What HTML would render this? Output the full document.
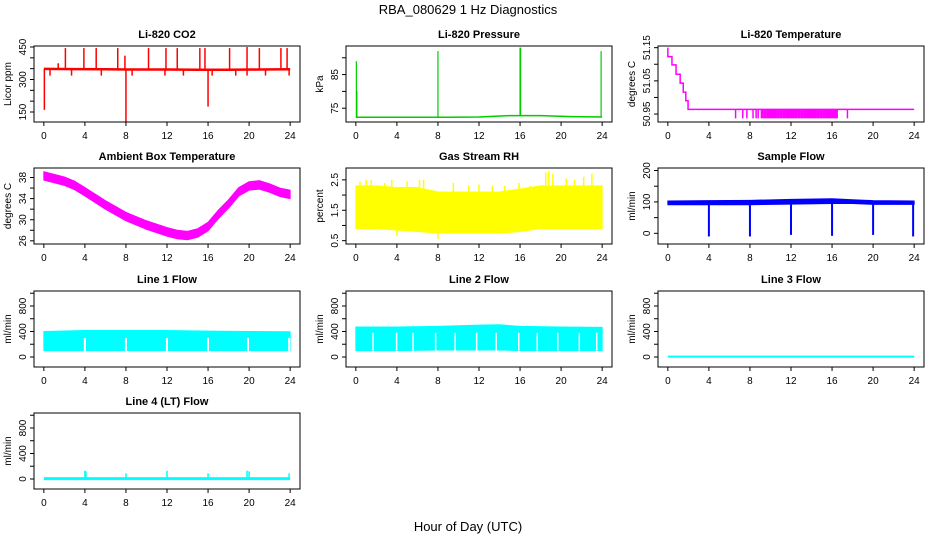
<!DOCTYPE html>
<html><head><meta charset="utf-8"><style>
body{margin:0;background:#fff;}
svg{display:block;font-family:"Liberation Sans",sans-serif;}
</style></head><body>
<svg id="c" width="936" height="540" viewBox="0 0 936 540">
<text x="468" y="14" text-anchor="middle" font-size="13">RBA_080629  1 Hz Diagnostics</text>
<text x="468" y="531" text-anchor="middle" font-size="13">Hour of Day (UTC)</text>
</svg>
<script>
// ---- data ----
const xTicks=[0,4,8,12,16,20,24];
const co2Base=[349,348,347,346,346,345,345,346,347];
const co2BaseHours=[0,3,6,9,12,15,18,21,24];
const co2SpikeHours=[2.1,3.9,5.1,7.2,7.9,10.2,11.9,13.0,15.2,15.7,18.1,19.8,21.0,23.1,23.7,0.05,8.0,16.0,0.6,2.7,5.6,8.6,11.8,13.6,16.4,18.7,19.8,21.6,23.9,1.4];
const co2SpikeVals=[445,445,445,445,410,445,445,445,445,445,445,450,445,445,445,160,105,175,318,318,318,318,318,318,318,318,318,318,318,375];
const presBase=[72.3,72.3,72.3,72.3,72.4,72.8,72.8,72.5,72.4];
const presBaseHours=[0,3,6,9,12,15,18,21,24];
const presSpikeHours=[0.05,0.1,8.0,16.0,16.05,23.9];
const presSpikeVals=[89,80,92,93,93,92];
const tempStepHours=[0,0.4,0.8,1.2,1.5,1.75,1.97,24];
const tempStepVals=[51.15,51.123,51.098,51.07,51.043,51.016,50.99,50.964];
const tempDipHours=[6.6,7.3,7.7,8.3,8.6,8.8,9.2,9.5,9.8,10.1,10.4,10.7,11,11.3,11.6,11.9,12.2,12.5,12.8,13.1,13.4,13.7,14,14.3,14.6,14.9,15.2,15.5,15.8,16.1,16.3,16.5,17.5];
const tempDipVal=50.937;
const ambHours=[0,2,3,4,6,8,10,12,13,14,15,16,17,18,19,20,21,22,23,24];
const ambVals=[38.3,37.3,36.5,35.3,32.8,30.6,29,27.7,27.2,27.0,27.5,28.7,31,33,35.3,36.4,36.6,36,35.2,34.8];
const ambHalfWidth=0.8;
const rhHours=[0,2,4,6,8,10,12,14,16,18,20,22,24];
const rhLow=[0.9,0.9,0.85,0.8,0.75,0.75,0.75,0.75,0.8,0.9,0.9,0.9,0.9];
const rhHigh=[2.3,2.3,2.25,2.25,2.1,2.1,2.1,2.1,2.2,2.3,2.3,2.3,2.3];
const rhSpikeHours=[0.4,1,1.5,2.8,3.5,4,5,6.2,6.6,8,9.5,11,12,13.3,14.5,15.9,17,18.5,18.8,19.2,20.5,21.3,22.2,23];
const rhSpikeVals=[2.45,2.5,2.5,2.4,2.5,0.65,2.45,2.5,2.5,0.55,2.4,2.3,2.35,2.3,2.3,2.4,2.3,2.75,2.8,2.7,2.55,2.5,2.6,2.7];
const sfHours=[0,4,8,12,16,18,20,24];
const sfLow=[91,91,91,93,95,95,92,92];
const sfHigh=[103,104,105,108,110,107,104,103];
const sfDipHours=[4,8,12,16,20,23.9];
const sfDipVals=[-10,-10,-5,-8,-5,-10];
const l1Hours=[0,4,8,12,16,20,24];
const l1Low=[100,100,100,100,100,100,100];
const l1High=[400,415,415,415,405,400,395];
const l1GapHours=[3.9,7.9,11.9,15.9,19.8,23.8];
const l2Hours=[0,4,8,12,14,16,20,24];
const l2Low=[100,100,110,110,110,100,100,100];
const l2High=[470,470,480,500,505,480,470,465];
const l2GapHours=[1.6,3.9,5.5,7.7,9.6,11.7,13.6,15.8,17.6,19.6,21.7,23.4];
const l3Hours=[0,24];
const l3Vals=[5,5];
const l4Hours=[0,24];
const l4Vals=[5,5];
const l4SpikeHours=[3.1,4.0,4.1,8.0,12.0,15.8,16.0,17.7,19.8,20.0,21.6,23.3,23.9];
const l4SpikeVals=[-20,130,120,90,130,-15,90,-10,130,120,-20,-15,90];

// ---- layout ----
const NS="http://www.w3.org/2000/svg";
const svg=document.getElementById('c');
const colL=[34,346,658], boxW=266, rowT=[46,168,291,413], boxH=76;
function el(tag,attrs,parent){const e=document.createElementNS(NS,tag);for(const k in attrs)e.setAttribute(k,attrs[k]);(parent||svg).appendChild(e);return e;}
function panel(c,r,title,ylab,ylim,yt,ylab2,name){
  const L=colL[c],T=rowT[r];
  const g=el('g',{});
  
  
  const sx=h=>L+boxW*(h+0.96)/25.92;
  const sy=v=>T+boxH*(ylim[1]-v)/(ylim[1]-ylim[0]);
  const plot=el('g',{},g);
  
  
  const box=el('rect',{x:L,y:T,width:boxW,height:boxH,fill:'none',stroke:'#000','stroke-width':1},g);
  
  
  const t=el('text',{x:L+boxW/2,y:T-8,'text-anchor':'middle','font-size':11,'font-weight':'bold'},g);
  t.textContent=title;
  
  
  // x axis
  const B=T+boxH;
  xTicks.forEach(h=>{
    el('line',{x1:sx(h),x2:sx(h),y1:B,y2:B+4,stroke:'#000'},g);
    const tx=el('text',{x:sx(h),y:B+17,'text-anchor':'middle','font-size':10},g);
    tx.textContent=h;
    
    
  });
  // y axis
  yt.forEach(v=>{
    el('line',{x1:L-4,x2:L,y1:sy(v),y2:sy(v),stroke:'#000'},g);
    if(ylab2.indexOf(v)>=0){
      const s=(v%1===0)?String(v):(Math.abs(v*10%1)<1e-6?v.toFixed(1):v.toFixed(2));
      const ty=el('text',{x:0,y:0,'text-anchor':'middle','font-size':10,transform:`translate(${L-8},${sy(v)}) rotate(-90)`},g);
      ty.textContent=s;
      
      
    }
  });
  const yl=el('text',{x:0,y:0,'text-anchor':'middle','font-size':10,transform:`translate(${L-23},${T+boxH/2}) rotate(-90)`},g);
  yl.textContent=ylab;
  
  
  return {g:plot,sx,sy};
}
function interp(hs,vs,h){for(let i=0;i<hs.length-1;i++){if(h<=hs[i+1]){const f=(h-hs[i])/(hs[i+1]-hs[i]);return vs[i]+f*(vs[i+1]-vs[i]);}}return vs[vs.length-1];}
function band(p,hs,lo,hi,color){
  let d='M'+hs.map((h,i)=>p.sx(h)+','+p.sy(hi[i])).join('L');
  for(let i=hs.length-1;i>=0;i--)d+='L'+p.sx(hs[i])+','+p.sy(lo[i]);
  const e=el('path',{d:d+'Z',fill:color,stroke:color},p.g);
  
  
}
function line(p,hs,vs,color,w){
  const e=el('polyline',{points:hs.map((h,i)=>p.sx(h)+','+p.sy(vs[i])).join(' '),fill:'none',stroke:color,'stroke-width':w||1},p.g);
  
  
}
function spikes(p,hs,vs,baseH,baseV,color,w){
  hs.forEach((h,i)=>{
    const b=interp(baseH,baseV,h);
    const e=el('line',{x1:p.sx(h),x2:p.sx(h),y1:p.sy(b),y2:p.sy(vs[i]),stroke:color,'stroke-width':w||1.2},p.g);
    
    
  });
}

// CO2
let p=panel(0,0,'Li-820 CO2','Licor ppm',[103.8,454.6],[150,200,250,300,350,400,450],[150,300,450],'co2');
line(p,co2BaseHours,co2Base,'#f00',2.5);
spikes(p,co2SpikeHours,co2SpikeVals,co2BaseHours,co2Base,'#f00',1.5);
// Pressure
p=panel(1,0,'Li-820 Pressure','kPa',[70.9,93.5],[75,80,85,90],[75,85],'pressure');
line(p,presBaseHours,presBase,'#0c0',1.5);
spikes(p,presSpikeHours,presSpikeVals,presBaseHours,presBase,'#0c0',1.2);
// Temperature (step)
p=panel(2,0,'Li-820 Temperature','degrees C',[50.926,51.155],[50.95,51.0,51.05,51.1,51.15],[50.95,51.05,51.15],'li820-temperature');
{let pts=[p.sx(tempStepHours[0])+','+p.sy(tempStepVals[0])];
 for(let i=1;i<tempStepVals.length;i++){pts.push(p.sx(tempStepHours[i-1])+','+p.sy(tempStepVals[i]));pts.push(p.sx(tempStepHours[i])+','+p.sy(tempStepVals[i]));}
 const e=el('polyline',{points:pts.join(' '),fill:'none',stroke:'#f0f','stroke-width':1.5},p.g);
 
 }
tempDipHours.forEach(h=>{const e=el('line',{x1:p.sx(h),x2:p.sx(h),y1:p.sy(tempStepVals[tempStepVals.length-1]),y2:p.sy(tempDipVal),stroke:'#f0f','stroke-width':(h>=9&&h<=16.3)?3.2:1.5},p.g);
 
 });
// Ambient
p=panel(0,1,'Ambient Box Temperature','degrees C',[25.4,39.8],[26,28,30,32,34,36,38],[26,30,34,38],'ambient-temperature');
band(p,ambHours,ambVals.map(v=>v-ambHalfWidth),ambVals.map(v=>v+ambHalfWidth),'#f0f');
// RH
p=panel(1,1,'Gas Stream RH','percent',[0.39,2.89],[0.5,1,1.5,2,2.5],[0.5,1.5,2.5],'gas-stream-rh');
band(p,rhHours,rhLow,rhHigh,'#ff0');
spikes(p,rhSpikeHours,rhSpikeVals,rhHours,rhHigh,'#ff0',1.5);
// Sample flow
p=panel(2,1,'Sample Flow','ml/min',[-34,208],[0,50,100,150,200],[0,100,200],'sample-flow');
band(p,sfHours,sfLow,sfHigh,'#00f');
spikes(p,sfDipHours,sfDipVals,sfHours,sfLow,'#00f',2);
// Line 1
p=panel(0,2,'Line 1 Flow','ml/min',[-157,1035],[0,200,400,600,800,1000],[0,400,800],'line1-flow');
band(p,l1Hours,l1Low,l1High,'#0ff');
l1GapHours.forEach(h=>{const e=el('rect',{x:p.sx(h),y:p.sy(300),width:2,height:p.sy(95)-p.sy(300),fill:'#fff'},p.g);});
// Line 2
p=panel(1,2,'Line 2 Flow','ml/min',[-157,1035],[0,200,400,600,800,1000],[0,400,800],'line2-flow');
band(p,l2Hours,l2Low,l2High,'#0ff');
l2GapHours.forEach(h=>{const e=el('rect',{x:p.sx(h),y:p.sy(380),width:1.5,height:p.sy(100)-p.sy(380),fill:'#fff'},p.g);});
// Line 3
p=panel(2,2,'Line 3 Flow','ml/min',[-157,1035],[0,200,400,600,800,1000],[0,400,800],'line3-flow');
line(p,l3Hours,l3Vals,'#0ff',2);
// Line 4
p=panel(0,3,'Line 4 (LT) Flow','ml/min',[-157,1035],[0,200,400,600,800,1000],[0,400,800],'line4-flow');
line(p,l4Hours,l4Vals,'#0ff',3);
spikes(p,l4SpikeHours,l4SpikeVals,l4Hours,l4Vals,'#0ff',1.5);
</script>
</body></html>
